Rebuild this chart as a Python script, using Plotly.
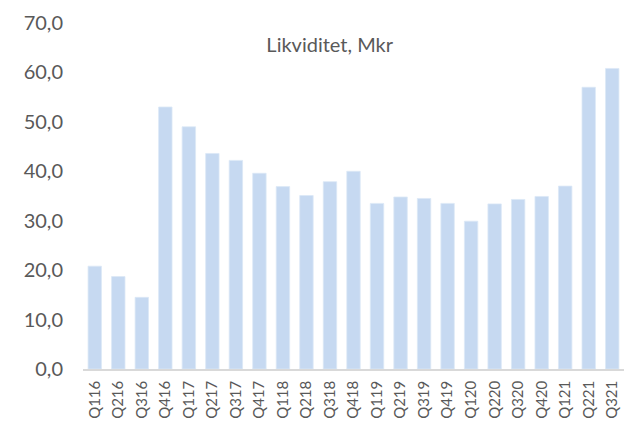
import plotly.graph_objects as go

categories = ["Q116", "Q216", "Q316", "Q416", "Q117", "Q217", "Q317", "Q417",
              "Q118", "Q218", "Q318", "Q418", "Q119", "Q219", "Q319", "Q419",
              "Q120", "Q220", "Q320", "Q420", "Q121", "Q221", "Q321"]
values = [20.8, 18.7, 14.5, 53.0, 49.0, 43.6, 42.2, 39.6,
          36.9, 35.1, 37.9, 40.0, 33.5, 34.8, 34.5, 33.5,
          29.9, 33.4, 34.3, 34.9, 37.0, 57.0, 60.8]
y_ticks = [0, 10, 20, 30, 40, 50, 60, 70]
title_text = "Likviditet, Mkr"

fig = go.Figure(go.Bar(
    x=categories, y=values,
    marker=dict(color="#C6D9F1", line=dict(color="#DCE8F6", width=0.8)),
))

fig.update_layout(
    width=628, height=423,
    margin=dict(l=83, r=4, t=23, b=50),
    paper_bgcolor="white", plot_bgcolor="white",
    bargap=0.43,
    separators=", ",
    showlegend=False,
    font=dict(family="Lato", color="#595959"),
    title=dict(text=title_text, x=0.525, xanchor="center", y=0.894, yanchor="middle",
               xref="container", yref="container",
               font=dict(size=20, color="#595959", family="Lato")),
)
fig.update_xaxes(
    type="category", tickangle=-90, tickfont=dict(size=15, color="#595959"),
    showline=True, linecolor="#D9D9D9", linewidth=1.5, ticks="", showgrid=False,
    ticklabelstandoff=4,
)
fig.update_yaxes(
    range=[0, 70], tickvals=y_ticks, tickformat=".1f",
    tickfont=dict(size=20, color="#595959"), showgrid=False, zeroline=False,
    showline=False, ticks="", ticklen=0, ticklabelstandoff=19,
)

fig.write_html("out.html", config={"displayModeBar": False},
               post_script="document.body.style.margin='0';document.body.style.overflow='hidden';")
